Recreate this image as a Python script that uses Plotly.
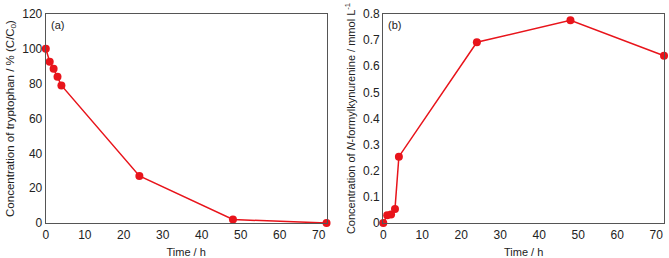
import plotly.graph_objects as go
from plotly.subplots import make_subplots

time_h = [0, 1, 2, 3, 4, 24, 48, 72]
tryptophan_pct = [100, 92.6, 88.5, 84, 79, 27, 2, 0]
nfk_mmol = [0, 0.03, 0.033, 0.054, 0.254, 0.692, 0.776, 0.64]

RED = "#e8141b"
FONT = "Liberation Sans, Arial, sans-serif"

fig = make_subplots(rows=1, cols=2)
fig.add_trace(go.Scatter(x=time_h, y=tryptophan_pct, mode="lines+markers",
                         line=dict(color=RED, width=1.5),
                         marker=dict(color=RED, size=8), cliponaxis=False,
                         showlegend=False), row=1, col=1)
fig.add_trace(go.Scatter(x=time_h, y=nfk_mmol, mode="lines+markers",
                         line=dict(color=RED, width=1.5),
                         marker=dict(color=RED, size=8), cliponaxis=False,
                         showlegend=False), row=1, col=2)

W, H = 669, 258
axis_common = dict(showline=True, mirror=True, linecolor="#555555", linewidth=1.2,
                   showgrid=False, zeroline=False, ticks="",
                   tickfont=dict(family=FONT, size=12, color="#222"))
fig.update_xaxes(**axis_common, range=[0, 72], dtick=10,
                 title=dict(text="Time / h", font=dict(family=FONT, size=11, color="#222"), standoff=8))
fig.update_xaxes(domain=[43 / W, 325 / W], row=1, col=1)
fig.update_xaxes(domain=[382 / W, 664 / W], row=1, col=2)
fig.update_yaxes(**axis_common)
fig.update_yaxes(range=[0, 120], dtick=20, row=1, col=1,
                 title=dict(text="Concentration of tryptophan / % (C/C<sub>0</sub>)",
                            font=dict(family=FONT, size=11.5, color="#222"), standoff=5))
fig.update_yaxes(range=[0, 0.8], dtick=0.1, tickformat=".1~f", row=1, col=2,
                 title=dict(text="Concentration of <i>N</i>-formylkynurenine / mmol L<sup>-1</sup>",
                            font=dict(family=FONT, size=11, color="#222"), standoff=5))

fig.add_annotation(text="(a)", xref="x domain", yref="y domain", x=0.01, y=0.985,
                   xanchor="left", yanchor="top", showarrow=False,
                   font=dict(family=FONT, size=11, color="#222"))
fig.add_annotation(text="(b)", xref="x2 domain", yref="y2 domain", x=0.01, y=0.985,
                   xanchor="left", yanchor="top", showarrow=False,
                   font=dict(family=FONT, size=11, color="#222"))

fig.update_layout(width=W, height=H, margin=dict(l=0, r=0, t=14, b=35),
                  paper_bgcolor="white", plot_bgcolor="white",
                  font=dict(family=FONT, size=11, color="#222"))
fig.write_html("out.html")
